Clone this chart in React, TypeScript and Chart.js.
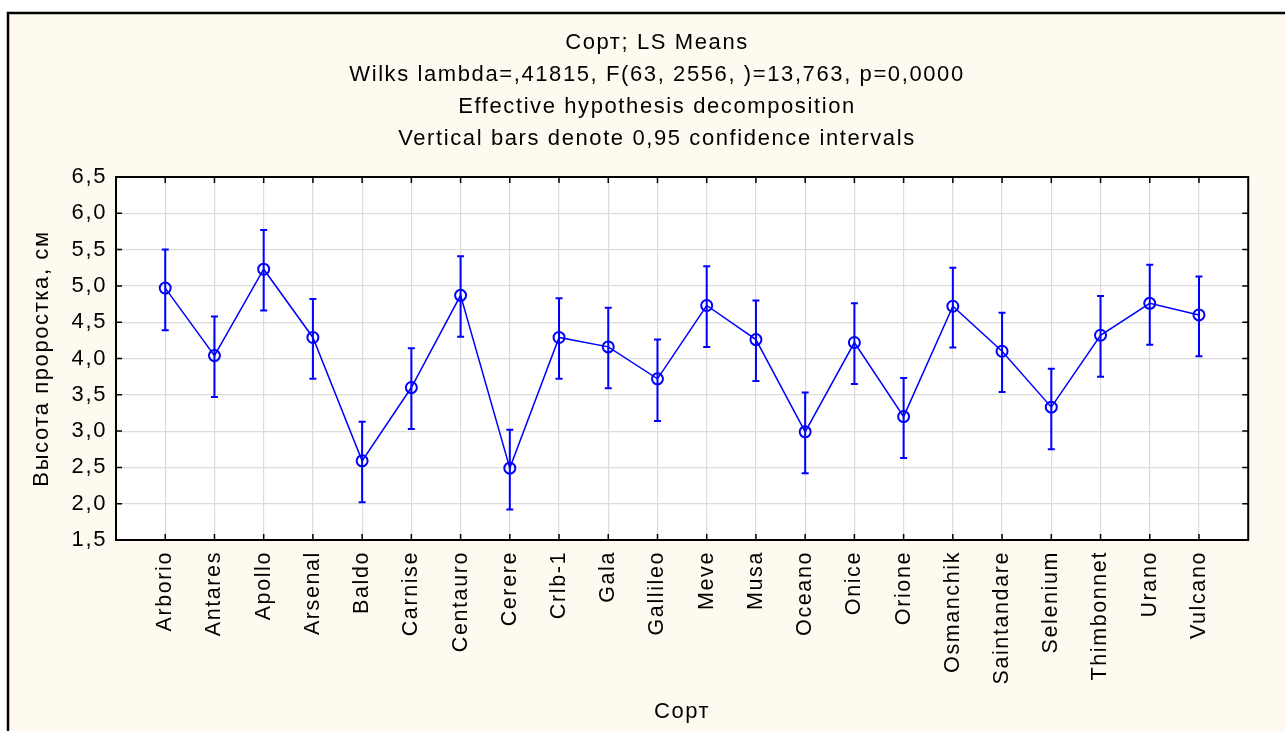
import React, { useEffect, useRef } from 'react';
import { Chart, registerables } from 'chart.js';
Chart.register(...registerables);

const categories = ['Arborio', 'Antares', 'Apollo', 'Arsenal', 'Baldo', 'Carnise', 'Centauro', 'Cerere', 'Crlb-1', 'Gala', 'Gallileo', 'Meve', 'Musa', 'Oceano', 'Onice', 'Orione', 'Osmanchik', 'Saintandare', 'Selenium', 'Thimbonnet', 'Urano', 'Vulcano'];
const means = [4.97, 4.04, 5.23, 4.29, 2.59, 3.60, 4.87, 2.49, 4.29, 4.16, 3.72, 4.73, 4.26, 2.99, 4.22, 3.20, 4.72, 4.10, 3.33, 4.32, 4.76, 4.60];
const upper = [5.50, 4.58, 5.77, 4.82, 3.13, 4.14, 5.41, 3.02, 4.83, 4.70, 4.26, 5.27, 4.80, 3.53, 4.76, 3.73, 5.25, 4.63, 3.86, 4.86, 5.29, 5.13];
const lower = [4.39, 3.47, 4.66, 3.72, 2.02, 3.03, 4.30, 1.92, 3.72, 3.59, 3.14, 4.16, 3.69, 2.42, 3.65, 2.63, 4.15, 3.54, 2.75, 3.75, 4.19, 4.03];
const yMin = 1.5;
const yMax = 6.5;
const yStep = 0.5;
const titleLines = [
  'Сорт; LS Means',
  'Wilks lambda=,41815, F(63, 2556, )=13,763, p=0,0000',
  'Effective hypothesis decomposition',
  'Vertical bars denote 0,95 confidence intervals',
];
const yTitle = 'Высота проростка, см';
const xTitle = 'Сорт';

const FONT = '"Liberation Sans", Arial, sans-serif';
const BLUE = '#0000ff';
const SPACING = '1.6px';

export default function App() {
  const ref = useRef<HTMLCanvasElement>(null);

  useEffect(() => {
    if (!ref.current) return;
    const decor = {
      id: 'decor',
      beforeUpdate(chart: any) {
        chart.ctx.letterSpacing = SPACING;
      },
      beforeLayout(chart: any) {
        chart.ctx.letterSpacing = SPACING;
      },
      beforeDraw(chart: any) {
        const { ctx, width, height, chartArea: a } = chart;
        ctx.letterSpacing = SPACING;
        ctx.save();
        ctx.fillStyle = '#ffffff';
        ctx.fillRect(0, 0, width, height);
        ctx.fillStyle = '#fffaf0';
        ctx.fillRect(8, 13, width - 8, height - 13);
        ctx.strokeStyle = '#000';
        ctx.lineWidth = 2.5;
        ctx.beginPath();
        ctx.moveTo(8, height + 5);
        ctx.lineTo(8, 13);
        ctx.lineTo(width + 5, 13);
        ctx.stroke();
        ctx.fillStyle = '#ffffff';
        ctx.fillRect(a.left, a.top, a.right - a.left, a.bottom - a.top);
        ctx.restore();
      },
      beforeDatasetsDraw(chart: any) {
        const { ctx } = chart;
        const xs = chart.scales.x;
        const ys = chart.scales.y;
        ctx.save();
        ctx.strokeStyle = BLUE;
        ctx.lineWidth = 2;
        for (let i = 0; i < means.length; i++) {
          const px = xs.getPixelForValue(i);
          const pt = ys.getPixelForValue(upper[i]);
          const pb = ys.getPixelForValue(lower[i]);
          ctx.beginPath();
          ctx.moveTo(px, pt);
          ctx.lineTo(px, pb);
          ctx.moveTo(px - 3.5, pt);
          ctx.lineTo(px + 3.5, pt);
          ctx.moveTo(px - 3.5, pb);
          ctx.lineTo(px + 3.5, pb);
          ctx.stroke();
        }
        ctx.restore();
      },
      afterDraw(chart: any) {
        const { ctx, chartArea: a } = chart;
        const xs = chart.scales.x;
        const ys = chart.scales.y;
        ctx.save();
        ctx.strokeStyle = '#000';
        ctx.lineWidth = 2;
        ctx.strokeRect(a.left, a.top, a.right - a.left, a.bottom - a.top);
        ctx.lineWidth = 1.5;
        ctx.beginPath();
        for (let i = 0; i < categories.length; i++) {
          const px = xs.getPixelForValue(i);
          ctx.moveTo(px, a.bottom);
          ctx.lineTo(px, a.bottom - 6);
          ctx.moveTo(px, a.top);
          ctx.lineTo(px, a.top + 6);
        }
        for (let v = yMin + yStep; v < yMax - 1e-9; v += yStep) {
          const py = ys.getPixelForValue(v);
          ctx.moveTo(a.left, py);
          ctx.lineTo(a.left + 6, py);
          ctx.moveTo(a.right, py);
          ctx.lineTo(a.right - 6, py);
        }
        ctx.stroke();
        ctx.restore();
      },
    };

    const chart = new Chart(ref.current, {
      type: 'line',
      data: {
        datasets: [
          {
            data: means.map((v, i) => ({ x: i, y: v })),
            borderColor: BLUE,
            borderWidth: 1.5,
            pointRadius: 5.5,
            pointBorderWidth: 2,
            pointBorderColor: BLUE,
            pointBackgroundColor: 'rgba(0,0,0,0)',
            tension: 0,
          },
        ],
      },
      options: {
        responsive: false,
        animation: false,
        devicePixelRatio: 1,
        layout: { padding: { left: 56, top: 0, right: 27, bottom: 0 } },
        plugins: {
          legend: { display: false },
          tooltip: { enabled: false },
          title: {
            display: true,
            text: titleLines,
            color: '#000',
            font: { family: FONT, size: 22, weight: 'normal', lineHeight: 32 / 22 },
            padding: { top: 27, bottom: 22 },
          },
        },
        scales: {
          x: {
            type: 'linear',
            min: -1,
            max: 22,
            afterFit(s: any) {
              s.height = 191;
            },
            afterBuildTicks(s: any) {
              s.ticks = [];
              for (let i = -1; i <= 22; i++) s.ticks.push({ value: i });
            },
            ticks: {
              autoSkip: false,
              minRotation: 90,
              maxRotation: 90,
              padding: 11,
              color: '#000',
              font: { family: FONT, size: 21.5 },
              callback: (v: any) => categories[v] ?? '',
            },
            grid: { color: '#dcdcdc', lineWidth: 1.2, drawTicks: false },
            border: { display: false },
            title: {
              display: true,
              text: xTitle,
              color: '#000',
              font: { family: FONT, size: 22 },
              padding: { top: 0, bottom: 6 },
            },
          },
          y: {
            min: yMin,
            max: yMax,
            afterFit(s: any) {
              s.width = 60;
            },
            ticks: {
              stepSize: yStep,
              padding: 9,
              color: '#000',
              font: { family: FONT, size: 22 },
              callback: (v: any) => Number(v).toFixed(1).replace('.', ','),
            },
            grid: { color: '#dcdcdc', lineWidth: 1.2, drawTicks: false },
            border: { display: false },
            title: {
              display: true,
              text: yTitle,
              color: '#000',
              font: { family: FONT, size: 22 },
              padding: { top: -27, bottom: 0 },
            },
          },
        },
      },
      plugins: [decor],
    });
    return () => chart.destroy();
  }, []);

  return (
    <div style={{ position: 'fixed', left: 0, top: 0, width: 1285, height: 731 }}>
      <canvas ref={ref} width={1285} height={731} style={{ display: 'block' }} />
    </div>
  );
}
